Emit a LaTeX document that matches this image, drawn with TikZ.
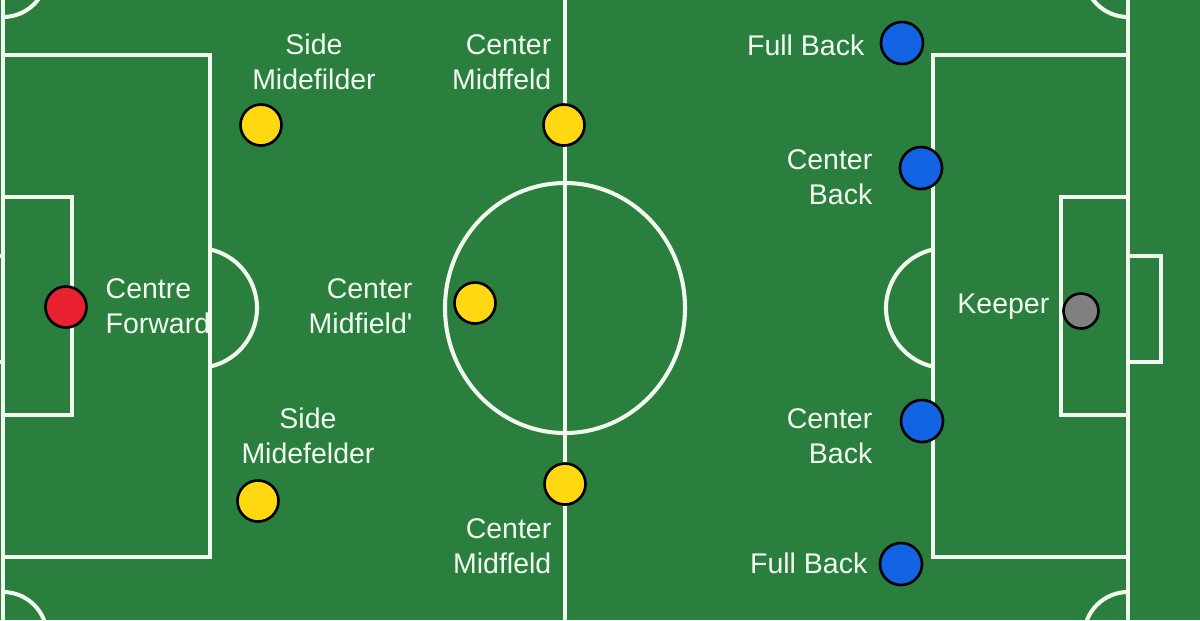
\documentclass[tikz,border=0pt]{standalone}
\usepackage{fontspec}
\setmainfont{Liberation Sans}
\usepackage{tikz}
\usetikzlibrary{calc}
\usetikzlibrary{positioning}

\definecolor{pitch}{RGB}{42,127,62}
\definecolor{chalk}{RGB}{242,250,240}
\definecolor{striker}{RGB}{232,32,48}
\definecolor{midcol}{RGB}{255,216,17}
\definecolor{backcol}{RGB}{18,100,228}
\definecolor{keepcol}{RGB}{128,128,128}

\begin{document}
\begin{tikzpicture}[x=0.01cm, y=-0.01cm,
  chalkline/.style={draw=chalk, line width=1.15pt},
  player/.style={circle, draw=black, line width=0.75pt, minimum size=4.1mm, inner sep=0pt},
  tag/.style={text=chalk, font=\fontsize{8.1}{9.7}\selectfont, inner sep=0pt}]
 \fill [pitch] (0, 0) rectangle (1200, 620);
 \useasboundingbox (0, 0) rectangle (1200, 620);
 \clip (0, 0) rectangle (1200, 620);
 % pitch markings
 \draw [chalkline] (3, -10) -- (3, 630);
 \draw [chalkline] (1128, -10) -- (1128, 630);
 \draw [chalkline] (565, -10) -- (565, 630);
 \draw [chalkline] (565, 308) ellipse [x radius=120, y radius=125];
 \draw [chalkline] (3, 55) rectangle (210, 557);
 \draw [chalkline] (3, 197) rectangle (72, 415);
 \draw [chalkline] (-40, 256) rectangle (3, 362);
 \draw [chalkline] (933, 55) rectangle (1128, 557);
 \draw [chalkline] (1061, 197) rectangle (1128, 415);
 \draw [chalkline] (1128, 256) rectangle (1161, 362);
 \draw [chalkline] (210.5, 249.5) arc [start angle=-77, end angle=77, radius=60];
 \draw [chalkline] (932.5, 366.5) arc [start angle=103, end angle=257, radius=60];
 % corners
 \draw [chalkline] (47, -27) arc [start angle=0, end angle=90, radius=44];
 \draw [chalkline] (3, 592) arc [start angle=-90, end angle=0, radius=44];
 \draw [chalkline] (1128, 17) arc [start angle=90, end angle=180, radius=44];
 \draw [chalkline] (1084, 636) arc [start angle=180, end angle=270, radius=44];

 % players
 \node [player, fill=striker] (CF) at (66, 307) {};
 \node [player, fill=midcol] (SM1) at (261, 125) {};
 \node [player, fill=midcol] (SM2) at (258, 501) {};
 \node [player, fill=midcol] (CM1) at (564, 125) {};
 \node [player, fill=midcol] (CM2) at (475, 303) {};
 \node [player, fill=midcol] (CM3) at (565, 484) {};
 \node [player, fill=backcol, minimum size=4.2mm] (FB1) at (902, 43) {};
 \node [player, fill=backcol, minimum size=4.2mm] (CB1) at (921, 168) {};
 \node [player, fill=backcol, minimum size=4.2mm] (CB2) at (922, 421) {};
 \node [player, fill=backcol, minimum size=4.2mm] (FB2) at (901, 564) {};
 \node [player, fill=keepcol, minimum size=3.5mm] (GK) at (1081, 311) {};

 % labels (base = last line)
 \node [tag, align=left, anchor=base west] (CFl) at (105, 333) {Centre\\Forward};
 \node [tag, align=center, anchor=base] (SM1l) at (314, 89) {Side\\Midefilder};
 \node [tag, align=center, anchor=base] (SM2l) at (308, 463) {Side\\Midefelder};
 \node [tag, align=right, anchor=base east] (CM1l) at (552, 89) {Center\\Midffeld};
 \node [tag, align=right, anchor=base east] (CM2l) at (413, 333) {Center\\Midfield\textquotesingle};
 \node [tag, align=right, anchor=base east] (CM3l) at (552, 573) {Center\\Midfſeld};
 \node [tag, anchor=base east] (FB1l) at (865, 55) {Full Back};
 \node [tag, align=right, anchor=base east] (CB1l) at (873, 204) {Center\\Back};
 \node [tag, align=right, anchor=base east] (CB2l) at (873, 463) {Center\\Back};
 \node [tag, anchor=base east] (FB2l) at (868, 573) {Full Back};
 \node [tag, anchor=base east] (GKl) at (1050, 313) {Keeper};
\end{tikzpicture}
\end{document}
